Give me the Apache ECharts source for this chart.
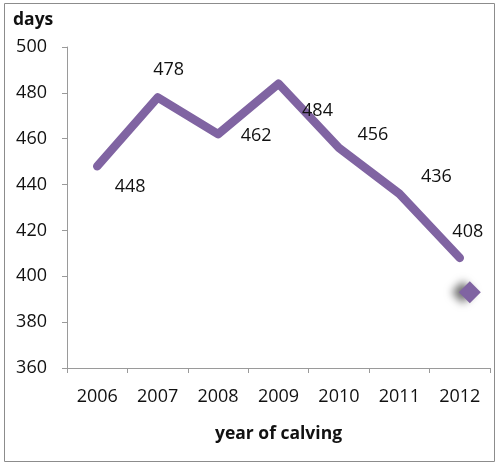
<!DOCTYPE html>
<html>
<head>
<meta charset="utf-8">
<script src="https://cdn.jsdelivr.net/npm/echarts@6/dist/echarts.min.js"></script>
<style>
html,body{margin:0;padding:0;background:#fff;}
#main{width:498px;height:464px;}
</style>
</head>
<body>
<div id="main"></div>
<script>
var years = ['2006','2007','2008','2009','2010','2011','2012'];
var days = [448, 478, 462, 484, 456, 436, 408];
var markerValue = 393;
var yTicks = [360, 380, 400, 420, 440, 460, 480, 500];

// label offsets for each point (layout only)
var labelOffsets = [[33,21],[11,-28],[38,2],[39,27],[34,-13],[37,-17],[8,-26]];

var myChart = echarts.init(document.getElementById('main'));

var lineData = [];
for (var i = 0; i < days.length; i++) {
    lineData.push({
        value: days[i],
        label: {
            position: [1 + labelOffsets[i][0], 1 + labelOffsets[i][1]],
            align: 'center',
            verticalAlign: 'middle'
        }
    });
}
var markerData = [];
for (var j = 0; j < years.length; j++) {
    markerData.push(j == years.length - 1 ? markerValue : '-');
}

var font = '"Open Sans", "Noto Sans", sans-serif';

var option = {
    animation: false,
    grid: {left: 67, right: 8, top: 47, bottom: 96},
    graphic: [{
        type: 'rect',
        shape: {x: 4.5, y: 3.5, width: 490, height: 458},
        style: {fill: 'none', stroke: '#8c8c8c', lineWidth: 1}
    }, {
        type: 'text',
        left: 13, top: 11,
        style: {text: 'days', font: 'bold 17.5px ' + font, fill: '#111'}
    }],
    xAxis: {
        type: 'category',
        data: years,
        boundaryGap: true,
        name: 'year of calving',
        nameLocation: 'middle',
        nameGap: 57,
        nameTextStyle: {fontFamily: font, fontWeight: 'bold', fontSize: 17.5, color: '#111'},
        axisLine: {lineStyle: {color: '#9a9a9a', width: 1}},
        axisTick: {show: true, alignWithLabel: false, length: 5, lineStyle: {color: '#9a9a9a'}},
        axisLabel: {fontFamily: font, fontSize: 18, color: '#111', margin: 20},
        splitLine: {show: false}
    },
    yAxis: {
        type: 'value',
        min: yTicks[0],
        max: yTicks[yTicks.length - 1],
        interval: 20,
        axisLine: {show: true, lineStyle: {color: '#9a9a9a', width: 1}},
        axisTick: {show: true, length: 5, lineStyle: {color: '#9a9a9a'}},
        axisLabel: {fontFamily: font, fontSize: 18, color: '#111', margin: 20},
        splitLine: {show: false}
    },
    series: [{
        name: 'days',
        type: 'line',
        data: lineData,
        symbol: 'circle',
        symbolSize: 2,
        showSymbol: true,
        showAllSymbol: true,
        itemStyle: {color: 'rgba(0,0,0,0)', borderWidth: 0},
        lineStyle: {color: '#8064a2', width: 8.5, cap: 'round', join: 'round'},
        label: {
            show: true,
            fontFamily: font,
            fontSize: 18,
            color: '#111'
        },
        labelLayout: {hideOverlap: false}
    }, {
        name: 'marker',
        type: 'line',
        data: markerData,
        symbol: 'diamond',
        symbolSize: 22,
        symbolOffset: [10, 0],
        showSymbol: true,
        lineStyle: {width: 0},
        itemStyle: {
            color: '#8064a2',
            shadowColor: 'rgba(0,0,0,0.6)',
            shadowBlur: 8,
            shadowOffsetX: -7,
            shadowOffsetY: 0
        }
    }]
};
myChart.setOption(option);
</script>
</body>
</html>
